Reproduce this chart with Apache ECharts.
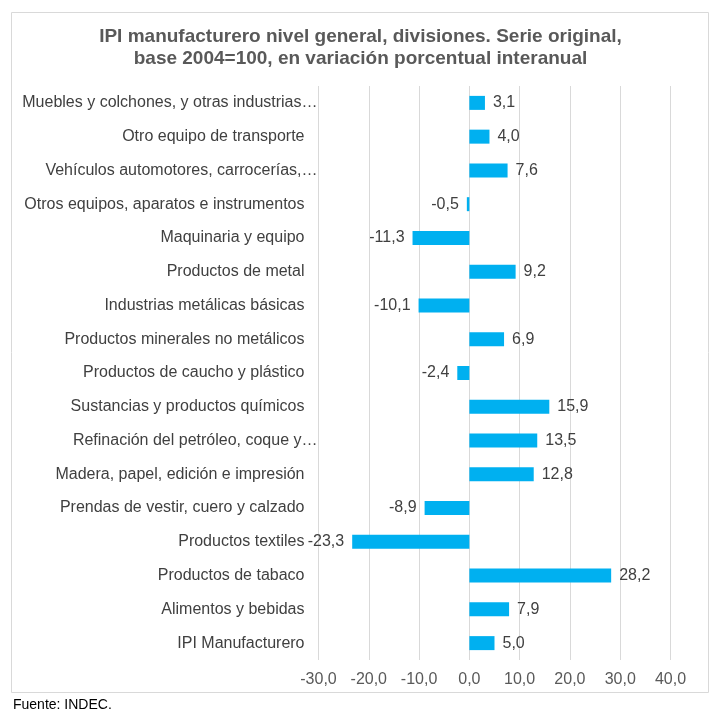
<!DOCTYPE html>
<html><head><meta charset="utf-8">
<script src="https://cdn.jsdelivr.net/npm/echarts@6/dist/echarts.min.js"></script>
<style>html,body{margin:0;padding:0;background:#fff}#c{width:721px;height:718px}</style>
</head><body><div id="c"></div>
<script>
const categories = [
  "Muebles y colchones, y otras industrias…",
  "Otro equipo de transporte",
  "Vehículos automotores, carrocerías,…",
  "Otros equipos, aparatos e instrumentos",
  "Maquinaria y equipo",
  "Productos de metal",
  "Industrias metálicas básicas",
  "Productos minerales no metálicos",
  "Productos de caucho y plástico",
  "Sustancias y productos químicos",
  "Refinación del petróleo, coque y…",
  "Madera, papel, edición e impresión",
  "Prendas de vestir, cuero y calzado",
  "Productos textiles",
  "Productos de tabaco",
  "Alimentos y bebidas",
  "IPI Manufacturero"
];
const values = [3.1, 4.0, 7.6, -0.5, -11.3, 9.2, -10.1, 6.9, -2.4, 15.9, 13.5, 12.8, -8.9, -23.3, 28.2, 7.9, 5.0];
const xTicks = [-30, -20, -10, 0, 10, 20, 30, 40];

const FONT = 'Liberation Sans, Arial, sans-serif';
const fmt = v => v.toFixed(1).replace('.', ',');
const chart = echarts.init(document.getElementById('c'));
chart.setOption({
  animation: false,
  textStyle: { fontFamily: FONT },
  title: {
    text: 'IPI manufacturero nivel general, divisiones. Serie original,\nbase 2004=100, en variación porcentual interanual',
    left: 'center', top: 21,
    textStyle: { fontSize: 19, fontWeight: 'bold', color: '#595959', lineHeight: 22, fontFamily: FONT }
  },
  graphic: [
    { type: 'rect', shape: { x: 11.5, y: 12.5, width: 697, height: 680 }, style: { fill: 'none', stroke: '#d9d9d9', lineWidth: 1 } },
    { type: 'text', left: 13, top: 698, style: { text: 'Fuente: INDEC.', fontSize: 14, fill: '#000', fontFamily: FONT } }
  ],
  grid: { left: 318.5, right: 50.5, top: 86, bottom: 58, containLabel: false },
  xAxis: {
    type: 'value', min: xTicks[0], max: xTicks[xTicks.length - 1], interval: 10,
    axisLine: { show: false }, axisTick: { show: false },
    splitLine: { lineStyle: { color: '#d9d9d9' } },
    axisLabel: { formatter: v => fmt(v), fontSize: 16, color: '#595959', margin: 12, fontFamily: FONT }
  },
  yAxis: {
    type: 'category', data: categories, inverse: true,
    axisLine: { show: false }, axisTick: { show: false },
    axisLabel: {
      fontSize: 16, color: '#404040', margin: 1, fontFamily: FONT,
      formatter: v => v.endsWith('…') ? '{t|' + v + '}' : '{n|' + v + '}',
      rich: {
        n: { fontSize: 16, color: '#404040', padding: [0, 13, 0, 0], fontFamily: FONT },
        t: { fontSize: 16, color: '#404040', padding: [0, 0, 0, 0], fontFamily: FONT }
      }
    }
  },
  series: [{
    type: 'bar', barWidth: 14,
    itemStyle: { color: '#00B0F0' },
    label: {
      show: true, fontSize: 16, color: '#404040', distance: 8, fontFamily: FONT,
      formatter: p => fmt(p.value)
    },
    data: values.map(v => ({ value: v, label: { position: v < 0 ? 'left' : 'right' } }))
  }]
});
</script></body></html>
